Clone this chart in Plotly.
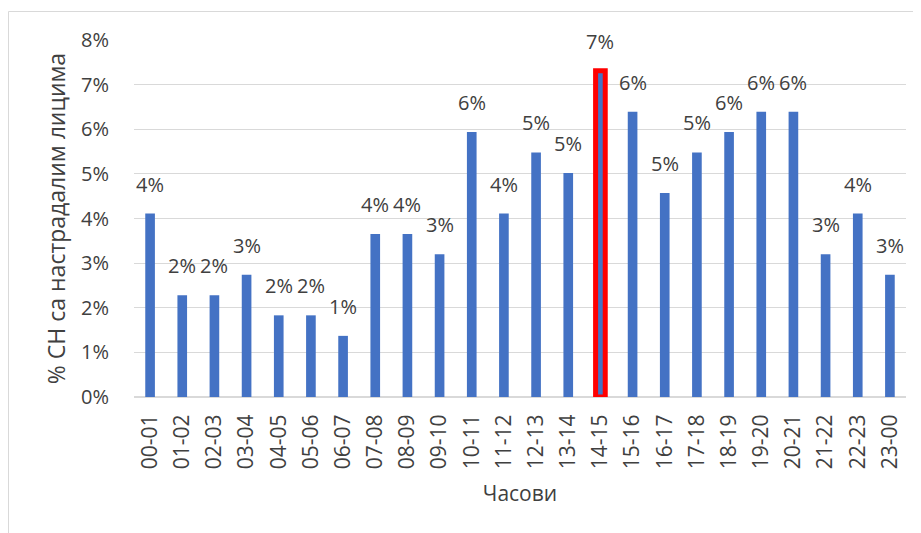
import plotly.graph_objects as go

categories = ["00-01", "01-02", "02-03", "03-04", "04-05", "05-06", "06-07", "07-08",
              "08-09", "09-10", "10-11", "11-12", "12-13", "13-14", "14-15", "15-16",
              "16-17", "17-18", "18-19", "19-20", "20-21", "21-22", "22-23", "23-00"]
values = [4.11, 2.28, 2.28, 2.74, 1.83, 1.83, 1.37, 3.65, 3.65, 3.20, 5.94, 4.11,
          5.48, 5.02, 7.31, 6.39, 4.57, 5.48, 5.94, 6.39, 6.39, 3.20, 4.11, 2.74]
labels = ["4%", "2%", "2%", "3%", "2%", "2%", "1%", "4%", "4%", "3%", "6%", "4%",
          "5%", "5%", "7%", "6%", "5%", "5%", "6%", "6%", "6%", "3%", "4%", "3%"]
highlight = "14-15"

FONT = "Open Sans"
TXT = "#404040"
GRID = "#d9d9d9"

line_w = [5 if c == highlight else 0 for c in categories]
line_c = ["#ff0000" if c == highlight else "rgba(0,0,0,0)" for c in categories]

fig = go.Figure()
fig.add_trace(go.Bar(
    x=categories, y=values,
    marker=dict(color="#4472c4", line=dict(width=line_w, color=line_c)),
    hoverinfo="skip",
))

for c, v, t in zip(categories, values, labels):
    fig.add_annotation(x=c, y=v, text=t, showarrow=False, yanchor="bottom",
                       yshift=14, font=dict(family=FONT, size=20, color=TXT))

# page body has an 8px offset; figure coordinates are shifted accordingly
W, H = 921, 533
OFF = 8
L, T = 134 - OFF, 40 - OFF
R = W - (906 - OFF)
B = H - (397 - OFF)
pw, ph = W - L - R, H - T - B
def px(x): return (x - L) / pw
def py(y): return (H - B - y) / ph
# outer chart frame (top and left edges visible)
fig.add_shape(type="line", xref="paper", yref="paper", x0=px(0.5), x1=px(W), y0=py(3.5), y1=py(3.5),
              line=dict(color=GRID, width=1))
fig.add_shape(type="line", xref="paper", yref="paper", x0=px(0.5), x1=px(0.5), y0=py(3.5), y1=py(H),
              line=dict(color=GRID, width=1))

fig.update_layout(
    width=W, height=H,
    margin=dict(l=L, r=R, t=T, b=B, autoexpand=False),
    paper_bgcolor="white", plot_bgcolor="white",
    bargap=0.7, showlegend=False,
    font=dict(family=FONT, color=TXT),
    xaxis=dict(
        type="category", tickangle=-90, tickfont=dict(family=FONT, size=21, color=TXT),
        ticks="outside", ticklen=8, tickcolor="rgba(0,0,0,0)",
        showgrid=False, showline=False, automargin=False,
        title=dict(text="Часови", font=dict(family=FONT, size=21, color=TXT), standoff=18),
    ),
    yaxis=dict(
        range=[0, 8], dtick=1, ticksuffix="%",
        tickfont=dict(family=FONT, size=20, color=TXT),
        ticks="outside", ticklen=20, tickcolor="rgba(0,0,0,0)",
        showgrid=True, gridcolor=GRID, gridwidth=1,
        zeroline=True, zerolinecolor=GRID, zerolinewidth=1.5,
        showline=False, automargin=False,
        title=dict(text="% СН са настрадалим лицима", font=dict(family=FONT, size=23, color=TXT), standoff=8),
    ),
)

fig.write_html("out.html")
